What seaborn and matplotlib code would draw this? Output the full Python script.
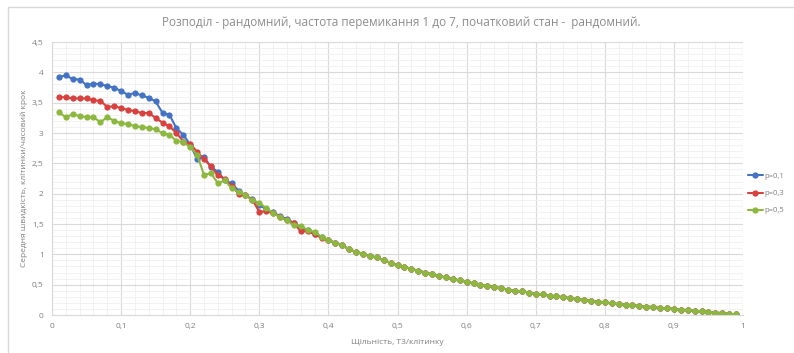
import numpy as np
import pandas as pd
import matplotlib
matplotlib.use("Agg")
import matplotlib.pyplot as plt
from matplotlib.lines import Line2D
from matplotlib.ticker import MultipleLocator, FuncFormatter
import seaborn as sns

# density 0.01 .. 0.99
density = np.round(np.arange(1, 100) / 100, 2)

# heads (0.01 .. 0.40)
blue_head = [3.92, 3.95, 3.89, 3.88, 3.79, 3.81, 3.81, 3.77, 3.75, 3.69,
             3.63, 3.66, 3.62, 3.58, 3.52, 3.33, 3.30, 3.08, 2.97, 2.81,
             2.57, 2.60, 2.44, 2.36, 2.22, 2.17, 2.05, 1.97, 1.91, 1.82,
             1.74, 1.69, 1.63, 1.58, 1.52, 1.44, 1.40, 1.34, 1.28, 1.23]
red_head = [3.59, 3.59, 3.57, 3.57, 3.57, 3.54, 3.53, 3.43, 3.44, 3.41,
            3.38, 3.36, 3.33, 3.33, 3.25, 3.17, 3.11, 3.00, 2.86, 2.82,
            2.69, 2.57, 2.45, 2.30, 2.25, 2.12, 2.00, 1.97, 1.90, 1.70,
            1.71, 1.68, 1.62, 1.56, 1.51, 1.38, 1.38, 1.33, 1.27, 1.24]
green_head = [3.34, 3.26, 3.31, 3.28, 3.26, 3.26, 3.18, 3.26, 3.20, 3.16,
              3.15, 3.11, 3.10, 3.08, 3.06, 3.00, 2.97, 2.87, 2.85, 2.77,
              2.64, 2.31, 2.34, 2.17, 2.22, 2.09, 2.03, 1.98, 1.89, 1.85,
              1.76, 1.68, 1.61, 1.56, 1.48, 1.47, 1.40, 1.37, 1.29, 1.24]

# common tail (0.41 .. 0.99) where the three series overlap
tail = [1.19, 1.15, 1.08, 1.04, 1.01, 0.97, 0.95, 0.90, 0.86, 0.82,
        0.79, 0.76, 0.73, 0.70, 0.67, 0.64, 0.62, 0.59, 0.57, 0.55,
        0.52, 0.50, 0.48, 0.46, 0.44, 0.42, 0.40, 0.39, 0.37, 0.35,
        0.34, 0.32, 0.31, 0.29, 0.28, 0.26, 0.25, 0.23, 0.22, 0.21,
        0.19, 0.18, 0.17, 0.16, 0.15, 0.14, 0.13, 0.12, 0.11, 0.10,
        0.09, 0.08, 0.07, 0.06, 0.05, 0.04, 0.03, 0.02, 0.01]

labels = ["p=0,1", "p=0,3", "p=0,5"]
colors = ["#4472C4", "#D9413E", "#8DB840"]

df = pd.concat([
    pd.DataFrame({"density": density, "speed": blue_head + tail, "p": labels[0]}),
    pd.DataFrame({"density": density, "speed": red_head + tail, "p": labels[1]}),
    pd.DataFrame({"density": density, "speed": green_head + tail, "p": labels[2]}),
])

sns.set_style("white")
plt.rcParams["font.family"] = ["Open Sans", "DejaVu Sans"]

fig = plt.figure(figsize=(7.94, 3.53), dpi=100)
ax = fig.add_axes([0.0655, 0.1076, 0.8703, 0.7734])

sns.lineplot(data=df, x="density", y="speed", hue="p", palette=colors,
             marker="o", markersize=4.5, markeredgewidth=0, linewidth=1.5,
             ax=ax, legend=False)

ax.set_xlim(0, 1)
ax.set_ylim(0, 4.5)
ax.xaxis.set_major_locator(MultipleLocator(0.1))
ax.xaxis.set_minor_locator(MultipleLocator(0.02))
ax.yaxis.set_major_locator(MultipleLocator(0.5))
ax.yaxis.set_minor_locator(MultipleLocator(0.1))
fmt = FuncFormatter(lambda v, pos: ("%g" % round(v, 2)).replace(".", ","))
ax.xaxis.set_major_formatter(fmt)
ax.yaxis.set_major_formatter(fmt)
ax.grid(which="major", color="#D9D9D9", linewidth=0.8)
ax.grid(which="minor", color="#F0F0F0", linewidth=0.6)
ax.set_axisbelow(True)
for s in ["top", "right"]:
    ax.spines[s].set_visible(False)
for s in ["left", "bottom"]:
    ax.spines[s].set_color("#D9D9D9")
    ax.spines[s].set_linewidth(0.8)
ax.tick_params(which="both", length=0, labelsize=6, colors="#7F7F7F", pad=6)

ax.set_xlabel("Щільність, ТЗ/клітинку", fontsize=6, color="#7F7F7F", labelpad=6)
ax.set_ylabel("Середня швидкість, клітинки/часовий крок", fontsize=6,
              color="#7F7F7F", labelpad=3)
fig.text(0.505, 0.935, "Розподіл - рандомний, частота перемикання 1 до 7, початковий стан -  рандомний.",
         ha="center", va="center", fontsize=8.5, color="#8C8C8C")

handles = [Line2D([0], [0], color=c, marker="o", markersize=4.5,
                  markeredgewidth=0, linewidth=1.5) for c in colors]
leg = ax.legend(handles, labels, loc="center left", bbox_to_anchor=(1.0, 0.445),
                frameon=False, fontsize=5.5, handlelength=2.0, handletextpad=0.2,
                labelspacing=1.3, labelcolor="#7F7F7F", borderaxespad=0.2)

# chart border (cropped screenshot)
fig.add_artist(Line2D([0.01, 1.0], [0.98, 0.98], color="#D9D9D9", linewidth=1))
fig.add_artist(Line2D([0.01, 0.01], [0.0, 0.98], color="#D9D9D9", linewidth=1))

fig.savefig("out.png", dpi=100)
